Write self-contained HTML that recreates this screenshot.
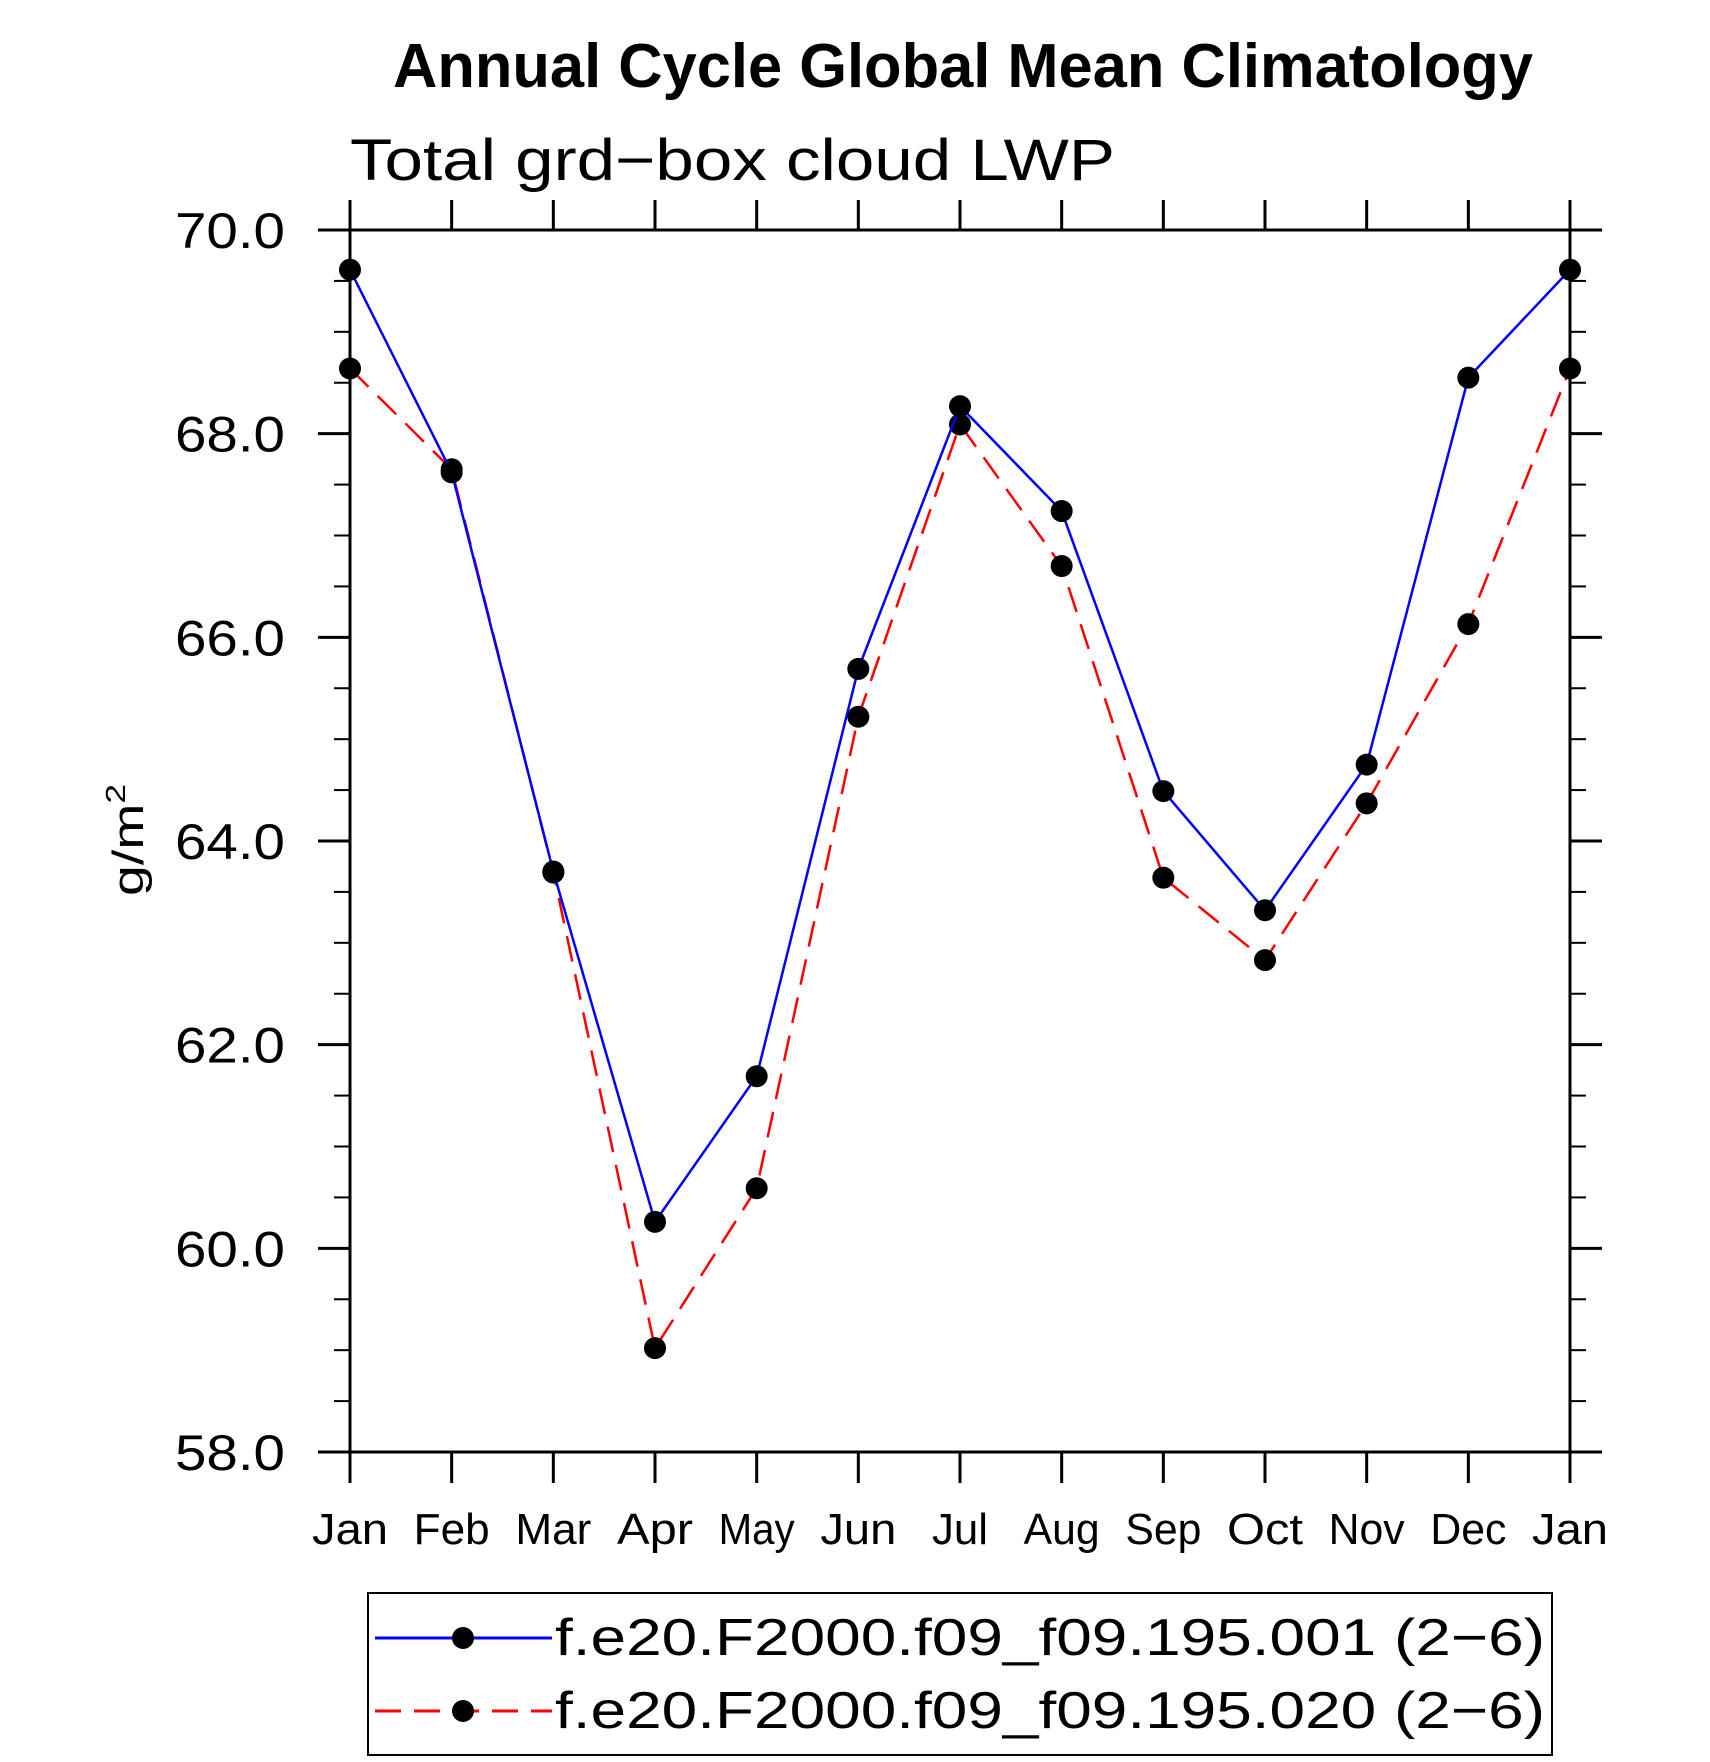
<!DOCTYPE html>
<html><head><meta charset="utf-8"><style>
html,body{margin:0;padding:0;background:#fff}
svg{display:block}
text{font-family:"Liberation Sans",sans-serif;fill:#000}
</style></head><body>
<svg id="chart" width="1710" height="1762" viewBox="0 0 1710 1762" xmlns="http://www.w3.org/2000/svg">
<text x="393" y="87" font-size="62" font-weight="bold" textLength="1140" lengthAdjust="spacingAndGlyphs">Annual Cycle Global Mean Climatology</text>
<text x="350" y="180" font-size="58" textLength="765" lengthAdjust="spacingAndGlyphs">Total grd−box cloud LWP</text>
<text transform="translate(143,840) rotate(-90)" text-anchor="middle" font-size="44" textLength="112" lengthAdjust="spacingAndGlyphs">g/m<tspan font-size="28" dy="-18">2</tspan></text>
<g id="axes"></g>
<g id="series"></g>
<g>
<rect x="368" y="1593" width="1184" height="162" fill="none" stroke="#000" stroke-width="2"/>
<g>
<line x1="375" y1="1638" x2="552" y2="1638" stroke="#0000ff" stroke-width="3"/>
<circle cx="463" cy="1638" r="11" fill="#000"/>
<text x="555" y="1655" font-size="52" textLength="990" lengthAdjust="spacingAndGlyphs">f.e20.F2000.f09_f09.195.001 (2−6)</text>
</g>
<g>
<line x1="375" y1="1711" x2="552" y2="1711" stroke="#ff0000" stroke-width="3" stroke-dasharray="26,13"/>
<circle cx="463" cy="1711" r="11" fill="#000"/>
<text x="555" y="1728" font-size="52" textLength="990" lengthAdjust="spacingAndGlyphs">f.e20.F2000.f09_f09.195.020 (2−6)</text>
</g>
</g>
</svg>
<script>
const months = ["Jan","Feb","Mar","Apr","May","Jun","Jul","Aug","Sep","Oct","Nov","Dec","Jan"];
const series001 = [69.61,67.62,63.70,60.26,61.69,65.69,68.27,67.24,64.49,63.32,64.75,68.55,69.61];
const series020 = [68.64,67.65,63.69,59.02,60.59,65.22,68.09,66.70,63.64,62.83,64.37,66.13,68.64];
const yTicks = [58,60,62,64,66,68,70];
const yTickLabels = ["58.0","60.0","62.0","64.0","66.0","68.0","70.0"];

const NS = "http://www.w3.org/2000/svg";
const L = 350, R = 1570, T = 230, B = 1452, yMin = 58, yMax = 70;
const xs = i => L + i * (R - L) / (months.length - 1);
const ys = v => B - (v - yMin) / (yMax - yMin) * (B - T);
function mk(tag, attrs, parent) {
  const e = document.createElementNS(NS, tag);
  for (const k in attrs) e.setAttribute(k, attrs[k]);
  parent.appendChild(e);
  return e;
}
const axes = document.getElementById("axes");
const S = {stroke: "#000", "stroke-width": 3};
let e;
e = mk("rect", {x: L, y: T, width: R - L, height: B - T, fill: "none", stroke: "#000", "stroke-width": 3}, axes);


e = mk("line", Object.assign({x1: 318, x2: 1602, y1: T, y2: T}, S), axes);


e = mk("line", Object.assign({x1: 318, x2: 1602, y1: B, y2: B}, S), axes);


months.forEach((m, i) => {
  const x = xs(i);
  e = mk("line", Object.assign({x1: x, x2: x, y1: T - 30, y2: T}, S), axes);
  
  
  e = mk("line", Object.assign({x1: x, x2: x, y1: B, y2: B + 31}, S), axes);
  
  
  e = mk("text", {x: x, y: 1544, "text-anchor": "middle", "font-size": 44, textLength: m === "Jul" ? 56 : 76, lengthAdjust: "spacingAndGlyphs"}, axes);
  e.textContent = m;
  
  
});
for (let v = yMin; v <= yMax + 1e-9; v += 0.5) {
  const y = ys(v);
  const major = Math.abs(v - Math.round(v / 2) * 2) < 1e-9;
  const len = major ? 32 : 16;
  e = mk("line", {x1: L - len, x2: L, y1: y, y2: y, stroke: "#000", "stroke-width": major ? 3 : 2}, axes);
  
  
  e = mk("line", {x1: R, x2: R + len, y1: y, y2: y, stroke: "#000", "stroke-width": major ? 3 : 2}, axes);
  
  
}
yTicks.forEach((v, i) => {
  e = mk("text", {x: 285, y: ys(v) + 18, "text-anchor": "end", "font-size": 50, textLength: 110, lengthAdjust: "spacingAndGlyphs"}, axes);
  e.textContent = yTickLabels[i];
  
  
});
const sg = document.getElementById("series");
function drawSeries(vals, color, dash, name) {
  const g = mk("g", {}, sg);
  
  
  const pts = vals.map((v, i) => xs(i) + "," + ys(v)).join(" ");
  const attrs = {points: pts, fill: "none", stroke: color, "stroke-width": 2.5};
  if (dash) attrs["stroke-dasharray"] = dash;
  e = mk("polyline", attrs, g);
  
  
  vals.forEach((v, i) => {
    e = mk("circle", {cx: xs(i), cy: ys(v), r: 11, fill: "#000"}, g);
    
    
  });
}
drawSeries(series020, "#ff0000", "26,13", "series-020");
drawSeries(series001, "#0000ff", null, "series-001");
</script>
</body></html>
